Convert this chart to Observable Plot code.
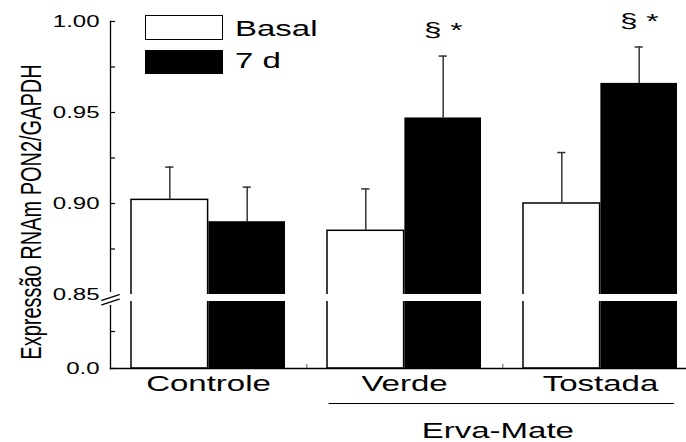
<!DOCTYPE html>
<html><head><meta charset="utf-8">
<script src="https://cdn.jsdelivr.net/npm/d3@7"></script>
<script src="https://cdn.jsdelivr.net/npm/@observablehq/plot@0.6"></script>
<style>
body{margin:0;background:#fff;}
#wrap{position:relative;width:686px;height:442px;font-family:"Liberation Sans",Arial,sans-serif;color:#000;overflow:hidden;}
.lg-box{position:absolute;box-sizing:border-box;}
.lg-text{position:absolute;font-size:22px;line-height:22px;transform:scaleX(1.5);transform-origin:left center;white-space:nowrap;}
#ytitle{position:absolute;left:31px;top:212px;font-size:30px;line-height:30px;white-space:nowrap;transform-origin:50% 50%;}
</style></head><body>
<div id="wrap"><div id="chart"></div>
<div class="lg-box" style="left:145px;top:15px;width:78px;height:25px;border:1.5px solid #000;background:#fff"></div>
<div class="lg-box" style="left:145px;top:50px;width:78px;height:24px;background:#000"></div>
<div class="lg-text" id="lg0" style="left:235px;top:18px"></div>
<div class="lg-text" id="lg1" style="left:235px;top:50px"></div>
<div id="ytitle"></div>
</div>
<script>
// ---- data ----
const groups = ["Controle", "Verde", "Tostada"];
const seriesNames = ["Basal", "7 d"];
const basalMean = [0.902, 0.885, 0.900];
const basalSem = [0.018, 0.023, 0.028];
const d7Mean = [0.890, 0.947, 0.966];
const d7Sem = [0.019, 0.034, 0.020];
const significance = ["", "§ *", "§ *"];
const yTicks = [0, 0.425, 0.85, 0.875, 0.9, 0.925, 0.95, 0.975, 1.0];
const yTickLabels = ["0.0", "", "0.85", "", "0.90", "", "0.95", "", "1.00"];
const yBreak = 0.85;
const yTitle = "Expressão RNAm PON2/GAPDH";
const groupLabel = "Erva-Mate";
const bracketGroups = ["Verde", "Tostada"];

// ---- layout ----
const W = 686, H = 442, mL = 110, mR = 0, mT = 21, mB = 74;
const frameW = W - mL - mR;
const xR = [110, 698], pIn = 0.213, pOut = 0.1015;
const step = (xR[1] - xR[0]) / (groups.length - pIn + 2 * pOut);
const bw = step * (1 - pIn), half = bw / 2, q = bw / 4;
const SX = 1.5;

const rows = groups.flatMap((g, i) => [
  {group: g, series: seriesNames[0], mean: basalMean[i], sem: basalSem[i], sig: ""},
  {group: g, series: seriesNames[1], mean: d7Mean[i], sem: d7Sem[i], sig: significance[i]}
]);
const basalRows = rows.filter(d => d.series === seriesNames[0]);
const d7Rows = rows.filter(d => d.series === seriesNames[1]);
const errCol = "#333";

const svg = Plot.plot({
  width: W, height: H,
  marginLeft: mL, marginRight: mR, marginTop: mT, marginBottom: mB,
  style: {fontFamily: "'Liberation Sans', Arial, sans-serif", fontSize: "15px", color: "black", background: "white", overflow: "visible"},
  x: {domain: groups, range: xR, paddingInner: pIn, paddingOuter: pOut, axis: null},
  y: {type: "linear", domain: [0, yBreak, 1], range: [368, 294, 21], axis: null},
  marks: [
    Plot.barY(basalRows, {x: "group", y: "mean", fill: "white", stroke: "black", strokeWidth: 1.5, insetRight: half}),
    Plot.barY(d7Rows, {x: "group", y: "mean", fill: "black", insetLeft: half}),
    Plot.ruleX(basalRows, {x: "group", y1: "mean", y2: d => d.mean + d.sem, dx: -q, stroke: errCol, strokeWidth: 1.5}),
    Plot.ruleX(d7Rows, {x: "group", y1: "mean", y2: d => d.mean + d.sem, dx: q, stroke: errCol, strokeWidth: 1.5}),
    Plot.tickY(basalRows, {x: "group", y: d => d.mean + d.sem, insetLeft: q - 4.5, insetRight: bw - q - 4.5, stroke: errCol, strokeWidth: 1.5}),
    Plot.tickY(d7Rows, {x: "group", y: d => d.mean + d.sem, insetLeft: 3 * q - 4.5, insetRight: q - 4.5, stroke: errCol, strokeWidth: 1.5}),
    Plot.text(d7Rows, {x: "group", y: d => d.mean + d.sem, text: "sig", dx: q, dy: -26, fontSize: 21}),
    Plot.frame({anchor: "left", stroke: "black", strokeWidth: 1.3}),
    Plot.frame({anchor: "bottom", stroke: "black", strokeWidth: 1.3}),
    Plot.ruleY(yTicks, {y: d => d, insetRight: frameW - 5, stroke: "black", strokeWidth: 1.2}),
    Plot.ruleX(groups.slice(0, -1), {x: d => d, y1: () => 0, y2: () => 0, insetTop: -4, dx: step / 2, stroke: "#555", strokeWidth: 1}),
    // axis break gaps
    Plot.rect([yBreak], {y1: d => d, y2: d => d, fill: "white", insetBottom: -7, insetLeft: -2}),
    Plot.rect([yBreak], {y1: d => d, y2: d => d, fill: "white", insetTop: -2, insetBottom: -11, insetLeft: -4, insetRight: frameW - 4}),
    Plot.vector([yBreak], {y: d => d, frameAnchor: "left", length: 18.5, rotate: 72, anchor: "middle",
      dy: 3, stroke: "black", strokeWidth: 1.2,
      shape: {draw(ctx, l) { ctx.moveTo(0, 0); ctx.lineTo(0, -l); }}}),
    Plot.vector([yBreak], {y: d => d, frameAnchor: "left", length: 18.5, rotate: 72, anchor: "middle",
      dy: 7.5, stroke: "black", strokeWidth: 1.2,
      shape: {draw(ctx, l) { ctx.moveTo(0, 0); ctx.lineTo(0, -l); }}}),
    Plot.text(yTicks, {y: d => d, text: (d, i) => yTickLabels[i], frameAnchor: "left", textAnchor: "end", dx: -11, fontSize: 16}),
    Plot.text(groups, {x: d => d, frameAnchor: "bottom", dy: 22, fontSize: 22}),
    Plot.tickY([bracketGroups[0]], {x: d => d, y: () => 0, dy: 35, insetLeft: 1.6, insetRight: -22, stroke: "black", strokeWidth: 1}),
    Plot.tickY([bracketGroups[1]], {x: d => d, y: () => 0, dy: 35, insetLeft: -22, insetRight: 3, stroke: "black", strokeWidth: 1}),
    Plot.text([groupLabel], {x: () => bracketGroups[0], y: () => 0, dx: step / 2 - 5, dy: 62.5, fontSize: 22})
  ]
});
document.getElementById("chart").append(svg);

// horizontal stretch of the texts (the original figure is stretched horizontally)
for (const t of Array.from(svg.querySelectorAll("text"))) {
  if (!t.textContent) continue;
  const L = t.getComputedTextLength();
  t.setAttribute("textLength", (L * SX).toFixed(2));
  t.setAttribute("lengthAdjust", "spacingAndGlyphs");
}
// legend and y title (HTML)
document.getElementById("lg0").textContent = seriesNames[0];
document.getElementById("lg1").textContent = seriesNames[1];
const yt = document.getElementById("ytitle");
yt.textContent = yTitle;
const tw = yt.offsetWidth;
yt.style.transform = `translate(-50%,-50%) rotate(-90deg) scaleX(${295 / tw})`;
</script>
</body></html>
